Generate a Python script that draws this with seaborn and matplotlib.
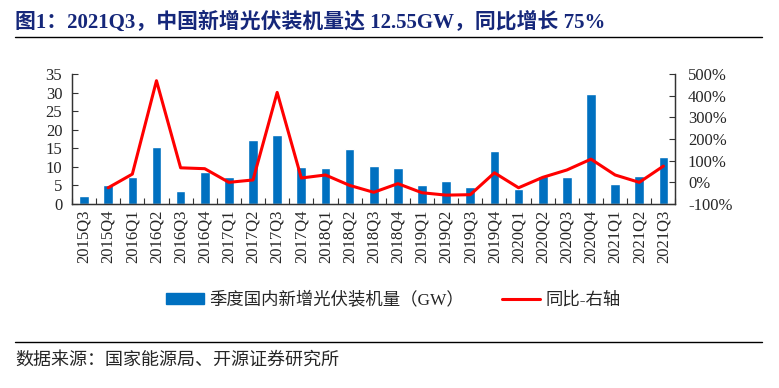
#!/usr/bin/env python3
"""China quarterly PV installations with YoY growth (bars + line on right axis)."""

import numpy as np
import pandas as pd
import matplotlib
matplotlib.use("Agg")
import matplotlib.pyplot as plt
from matplotlib.lines import Line2D
from matplotlib.ticker import PercentFormatter, MultipleLocator
import seaborn as sns


# --- Data ---
quarters = [
    "2015Q3", "2015Q4", "2016Q1", "2016Q2", "2016Q3", "2016Q4",
    "2017Q1", "2017Q2", "2017Q3", "2017Q4", "2018Q1", "2018Q2",
    "2018Q3", "2018Q4", "2019Q1", "2019Q2", "2019Q3", "2019Q4",
    "2020Q1", "2020Q2", "2020Q3", "2020Q4", "2021Q1", "2021Q2", "2021Q3",
]
capacity_gw = [
    2.2, 5.2, 7.2, 15.3, 3.6, 8.6,
    7.3, 17.3, 18.6, 10.0, 9.8, 14.7,
    10.3, 9.8, 5.2, 6.3, 4.6, 14.2,
    4.0, 7.6, 7.2, 29.5, 5.3, 7.65, 12.55,
]
yoy_pct = [
    np.nan, -25, 38, 469, 67, 63,
    0, 11, 415, 20, 34, -14,
    -46, -6, -48, -59, -57, 44,
    -25, 23, 57, 107, 34, 0, 75,
]

TITLE = "图1：2021Q3，中国新增光伏装机量达 12.55GW，同比增长 75%"
BAR_LABEL = "季度国内新增光伏装机量（GW）"
LINE_LABEL = "同比-右轴"
SOURCE = "数据来源：国家能源局、开源证券研究所"

BAR_COLOR = "#0070C0"
LINE_COLOR = "#FF0000"
AXIS_COLOR = "#333333"
SERIF = ["Liberation Serif", "Noto Sans CJK SC"]


def main():
    sns.set_style("white")
    plt.rcParams["font.family"] = SERIF
    plt.rcParams["axes.unicode_minus"] = False

    df = pd.DataFrame({"quarter": quarters, "capacity": capacity_gw, "yoy": yoy_pct})
    df["pos"] = np.arange(len(df))
    n = len(df)

    fig = plt.figure(figsize=(7.79, 3.88), dpi=100)
    ax = fig.add_axes([0.0924, 0.4742, 0.7747, 0.3351])

    sns.barplot(data=df, x="quarter", y="capacity", color=BAR_COLOR,
                saturation=1, width=0.4, ax=ax)

    ax2 = ax.twinx()
    sns.lineplot(data=df.dropna(subset=["yoy"]), x="pos", y="yoy",
                 color=LINE_COLOR, linewidth=2.2, ax=ax2)

    # left axis
    ax.set_ylim(0, 35)
    ax.yaxis.set_major_locator(MultipleLocator(5))
    ax.set_xlim(-0.5, n - 0.5)
    ax.set_xlabel("")
    ax.set_ylabel("")
    ax.tick_params(axis="y", direction="in", length=4, width=0.8,
                   color=AXIS_COLOR, labelsize=12, pad=7, left=True)
    ax.set_xticks(df["pos"])
    ax.set_xticklabels(quarters, rotation=90, fontsize=12, va="top")
    ax.tick_params(axis="x", which="major", length=0, pad=4)
    ax.set_xticks(np.arange(-0.5, n, 1), minor=True)
    ax.tick_params(axis="x", which="minor", direction="in", length=4,
                   width=0.8, color=AXIS_COLOR, bottom=True)

    # right axis
    ax2.set_ylim(-100, 500)
    ax2.yaxis.set_major_locator(MultipleLocator(100))
    ax2.yaxis.set_major_formatter(PercentFormatter(xmax=100, decimals=0))
    ax2.set_ylabel("")
    ax2.set_xlabel("")
    ax2.tick_params(axis="y", direction="in", length=4, width=0.8,
                    color=AXIS_COLOR, labelsize=12, pad=9, right=True)
    ax2.set_xlim(-0.5, n - 0.5)

    for a in (ax, ax2):
        a.spines["top"].set_visible(False)
        for side in ("left", "right", "bottom"):
            a.spines[side].set_color(AXIS_COLOR)
            a.spines[side].set_linewidth(0.9)
        a.grid(False)

    # legend below the x labels
    handles = [
        plt.Rectangle((0, 0), 1, 1, color=BAR_COLOR),
        Line2D([0], [0], color=LINE_COLOR, linewidth=2.2),
    ]
    fig.legend(handles, [BAR_LABEL, LINE_LABEL], loc="center",
               bbox_to_anchor=(0.505, 0.227), ncol=2, frameon=False,
               fontsize=12.5, handlelength=2.2, handleheight=0.6,
               handletextpad=0.3, columnspacing=2.2)

    # title and source with rules
    fig.text(15 / 779, 1 - 22 / 388, TITLE, fontsize=15, fontweight="bold",
             color="#15277a", va="center", ha="left")
    fig.add_artist(Line2D([15 / 779, 762 / 779], [1 - 37 / 388] * 2,
                          color="black", linewidth=1.0))
    fig.add_artist(Line2D([15 / 779, 762 / 779], [1 - 342 / 388] * 2,
                          color="black", linewidth=1.0))
    fig.text(15 / 779, 1 - 360 / 388, SOURCE, fontsize=13,
             va="center", ha="left")

    fig.savefig("out.png", dpi=100)
    plt.close(fig)


if __name__ == "__main__":
    main()
